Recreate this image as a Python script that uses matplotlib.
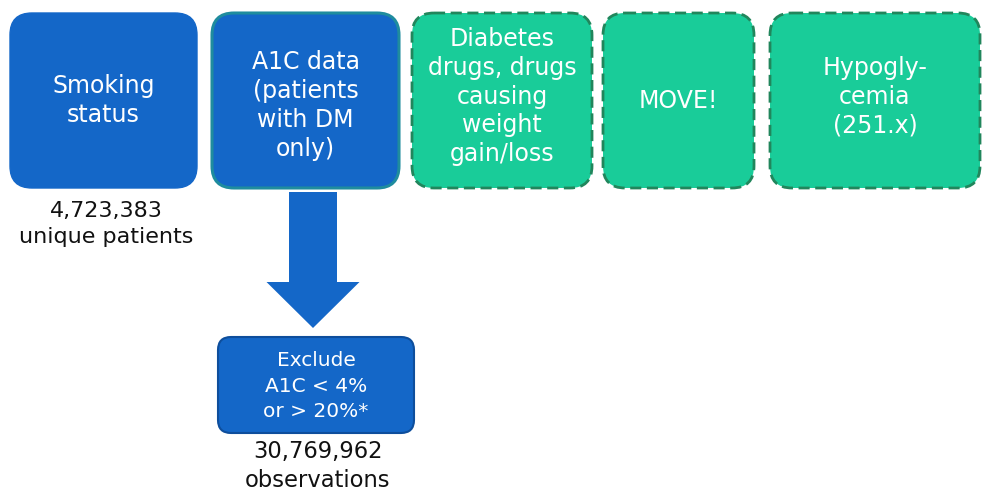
import matplotlib
matplotlib.use("Agg")
import matplotlib.pyplot as plt
from matplotlib.patches import FancyBboxPatch, FancyArrow

plt.rcParams['font.family'] = ['DejaVu Sans']

# box labels, left to right along the top row
top_labels = ["Smoking\nstatus",
              "A1C data\n(patients\nwith DM\nonly)",
              "Diabetes\ndrugs, drugs\ncausing\nweight\ngain/loss",
              "MOVE!",
              "Hypogly-\ncemia\n(251.x)"]
top_kind = ["solid", "teal", "dashed", "dashed", "dashed"]
exclude_label = "Exclude\nA1C < 4%\nor > 20%*"
count_patients = "4,723,383\nunique patients"
count_obs = "30,769,962\nobservations"

# layout in pixels (x0, x1) of each top box
top_x = [(10, 197), (212, 399), (412, 592), (603, 754), (770, 980)]
top_y = (13, 188)

BLUE = "#1467c8"
GREEN = "#19cc99"

fig = plt.figure(figsize=(9.83, 4.98), dpi=100)
ax = fig.add_axes([0, 0, 1, 1])
ax.set_xlim(0, 983)
ax.set_ylim(498, 0)
ax.axis('off')

for (x0, x1), lab, kind in zip(top_x, top_labels, top_kind):
    w = x1 - x0
    h = top_y[1] - top_y[0]
    ty = (top_y[0] + top_y[1]) / 2
    if kind == "dashed":
        p = FancyBboxPatch((x0, top_y[0]), w, h, boxstyle="round,pad=0,rounding_size=22",
                           fc=GREEN, ec="#21865c", lw=2.0, ls=(0, (4, 2)))
        if lab.count("\n") >= 2:
            ty -= 4
    elif kind == "teal":
        p = FancyBboxPatch((x0, top_y[0]), w, h, boxstyle="round,pad=0,rounding_size=22",
                           fc=BLUE, ec="#1f8c9e", lw=2.2)
        ty += 5
    else:
        p = FancyBboxPatch((x0, top_y[0]), w, h, boxstyle="round,pad=0,rounding_size=22",
                           fc=BLUE, ec=BLUE, lw=1)
    ax.add_patch(p)
    ax.text((x0 + x1) / 2, ty, lab, color="white", fontsize=17,
            ha="center", va="center", linespacing=1.25)

# arrow down from the A1C box
ax.add_patch(FancyArrow(313, 192, 0, 136, width=48, head_width=93, head_length=46,
                        length_includes_head=True, fc=BLUE, ec=BLUE, lw=0))

# exclusion box
ax.add_patch(FancyBboxPatch((218, 337), 196, 96, boxstyle="round,pad=0,rounding_size=13",
                            fc=BLUE, ec="#0e4e9c", lw=1.5))
ax.text(316, 386, exclude_label, color="white", fontsize=14.5,
        ha="center", va="center", linespacing=1.42)

ax.text(106, 224, count_patients, color="#111111", fontsize=16,
        ha="center", va="center", linespacing=1.38)
ax.text(318, 466, count_obs, color="#111111", fontsize=16.3,
        ha="center", va="center", linespacing=1.32)

fig.savefig("out.png", dpi=100)
